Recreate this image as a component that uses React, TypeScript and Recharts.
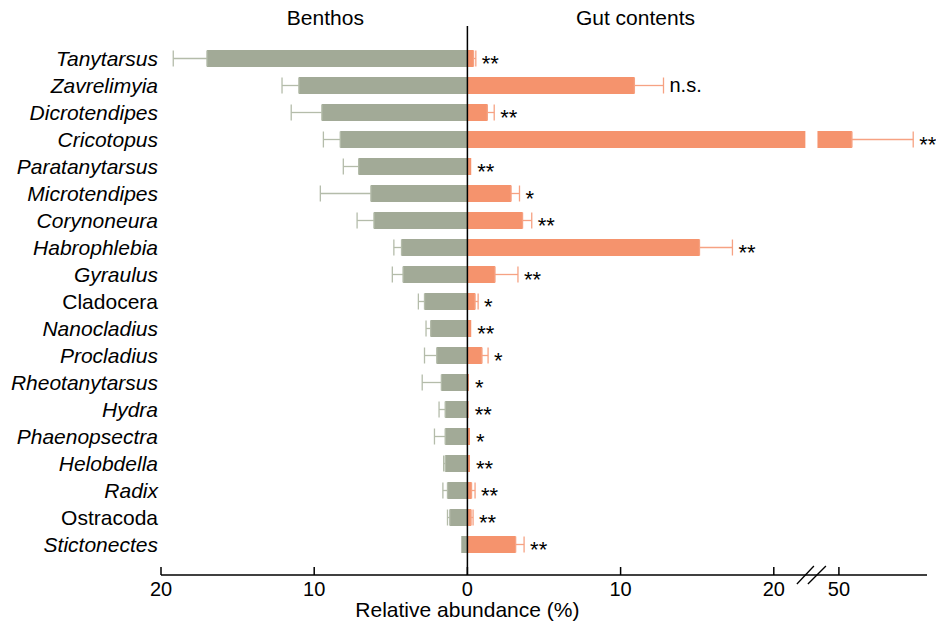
import { BarChart, Bar, XAxis, YAxis, ErrorBar, ReferenceLine, ReferenceDot } from "recharts"

// taxa, top to bottom
const taxa = [
  "Tanytarsus",
  "Zavrelimyia",
  "Dicrotendipes",
  "Cricotopus",
  "Paratanytarsus",
  "Microtendipes",
  "Corynoneura",
  "Habrophlebia",
  "Gyraulus",
  "Cladocera",
  "Nanocladius",
  "Procladius",
  "Rheotanytarsus",
  "Hydra",
  "Phaenopsectra",
  "Helobdella",
  "Radix",
  "Ostracoda",
  "Stictonectes",
]
// higher taxa are set upright, genera in italics
const uprightTaxa = ["Cladocera", "Ostracoda"]

// relative abundance (%) and standard error
const benthosMean = [17.0, 11.0, 9.5, 8.3, 7.1, 6.3, 6.1, 4.3, 4.2, 2.8, 2.4, 2.0, 1.7, 1.45, 1.45, 1.45, 1.3, 1.15, 0.4]
const benthosSE = [2.2, 1.1, 2.0, 1.1, 1.0, 3.3, 1.1, 0.5, 0.7, 0.4, 0.3, 0.8, 1.25, 0.4, 0.7, 0.1, 0.3, 0.15, 0]
const gutMean = [0.4, 10.9, 1.3, 50.85, 0.25, 2.85, 3.6, 15.15, 1.8, 0.5, 0.25, 0.95, 0.1, 0.08, 0.17, 0.17, 0.27, 0.24, 3.15]
const gutSE = [0.15, 1.9, 0.45, 4.0, 0, 0.55, 0.6, 2.15, 1.5, 0.2, 0, 0.4, 0, 0, 0, 0, 0.23, 0.13, 0.55]
const significance = ["**", "n.s.", "**", "**", "**", "*", "**", "**", "**", "*", "**", "*", "*", "**", "*", "**", "**", "**", "**"]

// x ticks in %, benthos side negative
const xTickValues = [-20, -10, 0, 10, 20, 50]

// the gut side jumps from 20 straight to 50
const BREAK_LOW = 20
const BREAK_HIGH = 50
const BREAK_POS = 24.25
const toAxis = (v: number) => (v <= BREAK_LOW ? v : v - BREAK_HIGH + BREAK_POS)
const BAR_GAP = [22.06, 22.85]

const FONT = "'Liberation Sans', Arial, Helvetica, sans-serif"
const BENTHOS_FILL = "#a2aa97"
const BENTHOS_ERR = "#b4bcaa"
const GUT_FILL = "#f5936d"
const GUT_ERR = "#f6a283"

const data = taxa.map((taxon, i) => ({
  taxon,
  benthos: -benthosMean[i],
  benthosErr: benthosSE[i] > 0 ? [benthosSE[i], 0] : undefined,
  gut: toAxis(gutMean[i]),
  gutErr: gutSE[i] > 0 ? [0, gutSE[i]] : undefined,
  tip: toAxis(gutMean[i]) + gutSE[i],
  sig: significance[i],
  broken: gutMean[i] > BREAK_LOW,
}))

function TaxonTick({ x, y, payload }: any) {
  const upright = uprightTaxa.includes(payload.value)
  return (
    <text
      x={x}
      y={y}
      dy="0.36em"
      textAnchor="end"
      fontFamily={FONT}
      fontSize={21}
      fontStyle={upright ? "normal" : "italic"}
      fill="#000"
    >
      {payload.value}
    </text>
  )
}

function AbundanceTick({ x, y, payload }: any) {
  const i = xTickValues.map(toAxis).indexOf(payload.value)
  const raw = xTickValues[i]
  return (
    <g>
      <line x1={x} x2={x} y1={y - 8} y2={y} stroke="#000" strokeWidth={1.5} />
      <text x={x} y={y + 21} textAnchor="middle" fontFamily={FONT} fontSize={20} fill="#000">
        {Math.abs(raw)}
      </text>
      {raw === BREAK_HIGH && (
        <g stroke="#000" strokeWidth={1.3}>
          <line x1={x - 42} y1={y + 9} x2={x - 25} y2={y - 9} />
          <line x1={x - 31} y1={y + 9} x2={x - 13} y2={y - 9} />
        </g>
      )}
    </g>
  )
}

// gut bar, split where it crosses the axis break
function GutBar(props: any) {
  const { x, y, width, height, payload } = props
  if (!payload.broken) return <rect x={x} y={y} width={width} height={height} fill={GUT_FILL} />
  const ppu = width / payload.gut
  const g0 = x + BAR_GAP[0] * ppu
  const g1 = x + BAR_GAP[1] * ppu
  return (
    <g>
      <rect x={x} y={y} width={g0 - x} height={height} fill={GUT_FILL} />
      <rect x={g1} y={y} width={x + width - g1} height={height} fill={GUT_FILL} />
    </g>
  )
}

// significance mark just past the error bar tip
function SigLabel(props: any) {
  const { viewBox, value } = props
  if (!viewBox) return null
  const stars = value !== "n.s."
  return (
    <text
      x={viewBox.x + 6}
      y={viewBox.y}
      dy={stars ? 12 : 6}
      fontFamily={FONT}
      fontSize={stars ? 22 : 20}
      fill="#000"
    >
      {value}
    </text>
  )
}

export default function App() {
  return (
    <div style={{ fontFamily: FONT }}>
      <style>{"body { margin: 0; }"}</style>
      <BarChart
        width={936}
        height={624}
        data={data}
        layout="vertical"
        margin={{ top: 26, right: 9, bottom: 0, left: 8 }}
        barSize={17}
        barGap={-17}
      >
        <XAxis
          type="number"
          domain={[-20, 30]}
          ticks={xTickValues.map(toAxis)}
          interval={0}
          height={49}
          tickSize={0}
          tickMargin={0}
          tickLine={false}
          axisLine={{ stroke: "#000", strokeWidth: 1.5 }}
          tick={<AbundanceTick />}
        />
        <YAxis
          type="category"
          dataKey="taxon"
          width={153}
          padding={{ top: 19, bottom: 17 }}
          axisLine={false}
          tickLine={false}
          tickSize={0}
          tickMargin={3}
          interval={0}
          tick={<TaxonTick />}
        />
        <Bar dataKey="benthos" fill={BENTHOS_FILL} isAnimationActive={false}>
          <ErrorBar dataKey="benthosErr" direction="x" width={8} stroke={BENTHOS_ERR} strokeWidth={1.3} />
        </Bar>
        <Bar dataKey="gut" fill={GUT_FILL} shape={<GutBar />} isAnimationActive={false}>
          <ErrorBar dataKey="gutErr" direction="x" width={8} stroke={GUT_ERR} strokeWidth={1.3} />
        </Bar>
        {data.map((d) => (
          <ReferenceDot
            key={d.taxon}
            x={d.tip}
            y={d.taxon}
            r={0}
            fill="none"
            stroke="none"
            ifOverflow="visible"
            label={<SigLabel value={d.sig} />}
          />
        ))}
        <ReferenceLine
          x={0}
          stroke="#000"
          strokeWidth={1.5}
          label={{ value: "Relative abundance (%)", position: "bottom", offset: 27, fontSize: 21, fill: "#000", fontFamily: FONT }}
        />
        <ReferenceLine
          x={-9.27}
          stroke="none"
          label={{ value: "Benthos", position: "top", offset: 1, fontSize: 21, fill: "#000", fontFamily: FONT }}
        />
        <ReferenceLine
          x={10.97}
          stroke="none"
          label={{ value: "Gut contents", position: "top", offset: 1, fontSize: 21, fill: "#000", fontFamily: FONT }}
        />
      </BarChart>
    </div>
  )
}
